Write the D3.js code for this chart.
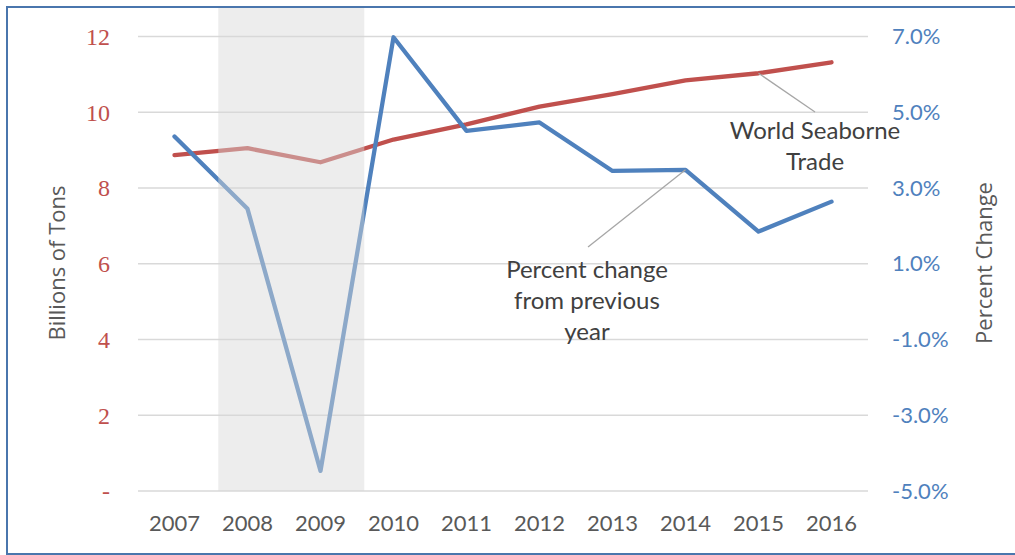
<!DOCTYPE html>
<html>
<head>
<meta charset="utf-8">
<script src="https://cdn.jsdelivr.net/npm/d3@7"></script>
<style>
  body { margin: 0; background: #fff; }
  svg { display: block; }
</style>
</head>
<body>
<div id="chart"></div>
<script>
// datos del gráfico
const years = [2007, 2008, 2009, 2010, 2011, 2012, 2013, 2014, 2015, 2016];
const tradeTons = [8.87, 9.05, 8.68, 9.28, 9.68, 10.15, 10.48, 10.84, 11.03, 11.32];
const pctChange = [4.36, 2.45, -4.47, 6.98, 4.51, 4.73, 3.45, 3.48, 1.85, 2.64];
const leftTicks = [0, 2, 4, 6, 8, 10, 12];
const leftTickLabels = ['-', '2', '4', '6', '8', '10', '12'];
const rightTicks = [-5, -3, -1, 1, 3, 5, 7];
const rightTickLabels = ['-5.0%', '-3.0%', '-1.0%', '1.0%', '3.0%', '5.0%', '7.0%'];
const recessionSpan = [2007.6, 2009.6];

const W = 1015, H = 555;
const margin = {top: 36.5, right: 147, bottom: 64, left: 138};
const red = '#c0504d', blue = '#4f81bd', grey = '#595959';

const svg = d3.select('#chart').append('svg')
    .attr('width', W).attr('height', H);

// borde del bloque
svg.append('rect')
    .attr('x', 7).attr('y', 7)
    .attr('width', W + 10).attr('height', 547)
    .attr('fill', 'none')
    .attr('stroke', '#4a76ad')
    .attr('stroke-width', 2);

const x = d3.scaleBand().domain(years)
    .range([margin.left, W - margin.right]).padding(0);
const xc = d => x(d) + x.bandwidth() / 2;
const xYear = d3.scaleLinear().domain([years[0], years[years.length - 1]])
    .range([xc(years[0]), xc(years[years.length - 1])]);

const yL = d3.scaleLinear().domain([0, 12]).range([H - margin.bottom, margin.top]);
const yR = d3.scaleLinear().domain([-5, 7]).range([H - margin.bottom, margin.top]);

// rejilla
svg.append('g')
    .selectAll('line')
    .data(leftTicks)
    .enter().append('line')
    .attr('x1', margin.left).attr('x2', W - margin.right)
    .attr('y1', d => yL(d)).attr('y2', d => yL(d))
    .attr('stroke', '#d9d9d9')
    .attr('stroke-width', 1.5);

// líneas
const lineL = d3.line().x((d, i) => xc(years[i])).y(d => yL(d));
const lineR = d3.line().x((d, i) => xc(years[i])).y(d => yR(d));

svg.append('path')
    .datum(tradeTons)
    .attr('fill', 'none')
    .attr('stroke', red)
    .attr('stroke-width', 4.3)
    .attr('stroke-linejoin', 'round')
    .attr('stroke-linecap', 'round')
    .attr('d', lineL);

svg.append('path')
    .datum(pctChange)
    .attr('fill', 'none')
    .attr('stroke', blue)
    .attr('stroke-width', 4.3)
    .attr('stroke-linejoin', 'round')
    .attr('stroke-linecap', 'round')
    .attr('d', lineR);

// sombreado de la recesión (encima de las líneas, semitransparente)
svg.append('rect')
    .attr('x', xYear(recessionSpan[0]))
    .attr('y', 8)
    .attr('width', xYear(recessionSpan[1]) - xYear(recessionSpan[0]))
    .attr('height', yL(0) - 8)
    .attr('fill', 'rgb(216,216,216)')
    .attr('fill-opacity', 0.46);

// eje izquierdo
svg.append('g')
    .selectAll('text')
    .data(leftTicks)
    .enter().append('text')
    .attr('x', 110)
    .attr('y', d => yL(d))
    .attr('dy', '0.35em')
    .attr('text-anchor', 'end')
    .attr('fill', red)
    .style('font-family', '"Liberation Serif", serif')
    .style('font-size', '24px')
    .text((d, i) => leftTickLabels[i]);

// eje derecho
svg.append('g')
    .selectAll('text')
    .data(rightTicks)
    .enter().append('text')
    .attr('x', 892)
    .attr('y', d => yR(d))
    .attr('dy', '0.35em')
    .attr('fill', blue)
    .style('font-family', 'Lato, sans-serif')
    .style('font-size', '22px')
    .text((d, i) => rightTickLabels[i]);

// eje X
svg.append('g')
    .selectAll('text')
    .data(years)
    .enter().append('text')
    .attr('x', d => xc(d))
    .attr('y', 523)
    .attr('dy', '0.35em')
    .attr('text-anchor', 'middle')
    .attr('fill', grey)
    .style('font-family', 'Lato, sans-serif')
    .style('font-size', '22px')
    .text(d => d);

// títulos de ejes
svg.append('text')
    .attr('transform', 'translate(57,263) rotate(-90)')
    .attr('text-anchor', 'middle')
    .attr('dy', '0.35em')
    .attr('fill', grey)
    .style('font-family', '"Open Sans", sans-serif')
    .style('font-size', '22px')
    .text('Billions of Tons');

svg.append('text')
    .attr('transform', 'translate(984,263) rotate(-90)')
    .attr('text-anchor', 'middle')
    .attr('dy', '0.35em')
    .attr('fill', grey)
    .style('font-family', '"Open Sans", sans-serif')
    .style('font-size', '22px')
    .text('Percent Change');

// anotaciones
const annotations = [
    {lines: ['World Seaborne', 'Trade'], year: 2015, value: tradeTons[8], scale: yL,
     tx: 815, ty: 131, lx: 815, ly: 112},
    {lines: ['Percent change', 'from previous', 'year'], year: 2014, value: pctChange[7], scale: yR,
     tx: 587, ty: 270, lx: 588, ly: 247}
];

annotations.forEach(a => {
    svg.append('line')
        .attr('x1', xc(a.year)).attr('y1', a.scale(a.value))
        .attr('x2', a.lx).attr('y2', a.ly)
        .attr('stroke', '#a6a6a6')
        .attr('stroke-width', 1.3);
    const t = svg.append('text')
        .attr('text-anchor', 'middle')
        .attr('fill', '#404040')
        .style('font-family', 'Lato, sans-serif')
        .style('font-size', '24px');
    a.lines.forEach((l, i) => {
        t.append('tspan')
            .attr('x', a.tx)
            .attr('y', a.ty + i * 31)
            .attr('dy', '0.35em')
            .text(l);
    });
});
</script>
</body>
</html>
